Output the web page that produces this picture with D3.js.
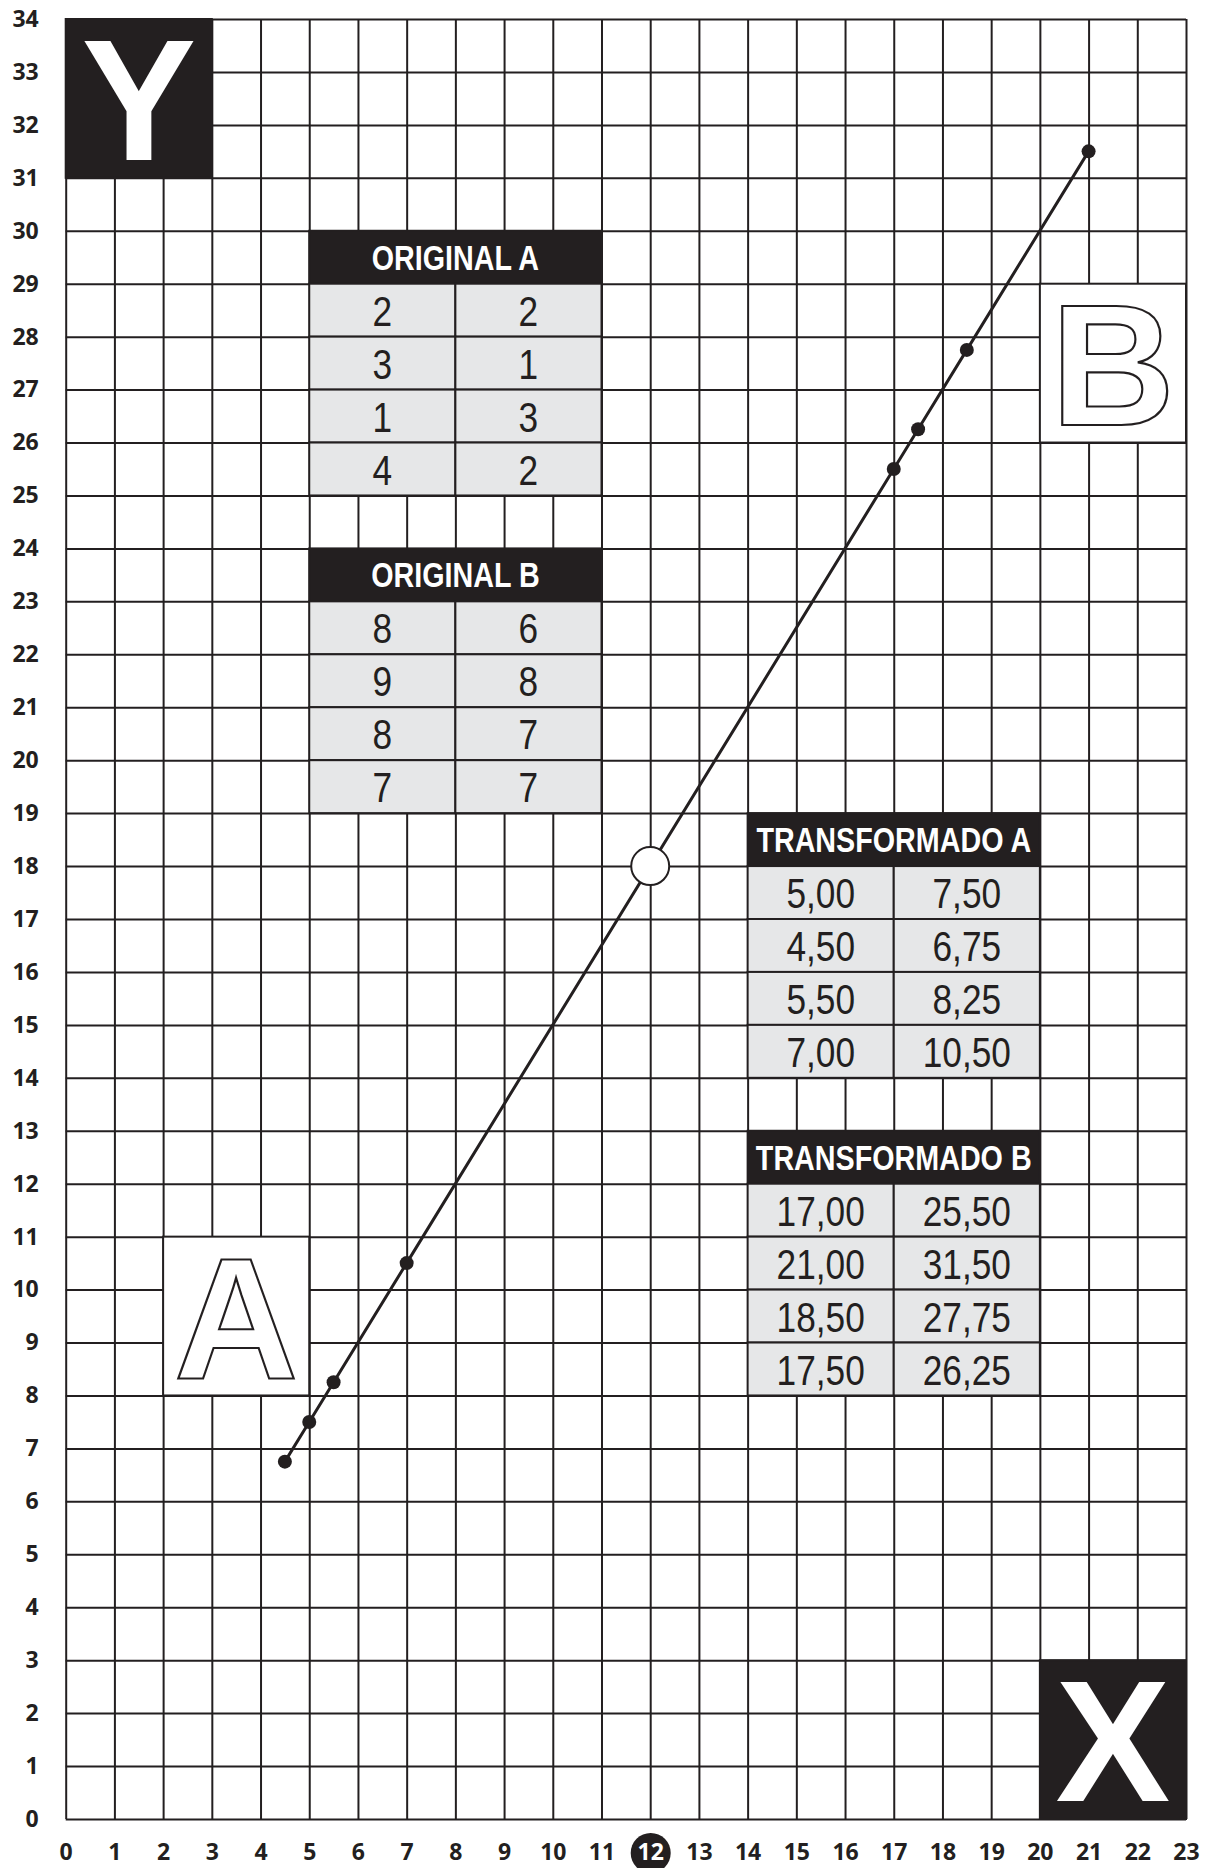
<!DOCTYPE html>
<html>
<head>
<meta charset="utf-8">
<script src="https://d3js.org/d3.v7.min.js"></script>
<style>
  body { margin: 0; background: #fff; }
  svg { display: block; }
</style>
</head>
<body>
<div id="chart"></div>
<script>
// tick labels
var xTicks = d3.range(0, 24);   // 0 .. 23
var yTicks = d3.range(0, 35);   // 0 .. 34
var highlightX = 12;

// table values (x, y pairs)
var originalA = [[2, 2], [3, 1], [1, 3], [4, 2]];
var originalB = [[8, 6], [9, 8], [8, 7], [7, 7]];
var transformadoA = [[5.00, 7.50], [4.50, 6.75], [5.50, 8.25], [7.00, 10.50]];
var transformadoB = [[17.00, 25.50], [21.00, 31.50], [18.50, 27.75], [17.50, 26.25]];

// the open point on the line
var centerPoint = [12, 18];

function init() {
    var w = 1205;
    var h = 1868;
    var ink = "#231f20";
    var cellFill = "#e6e7e8";
    var narrow = 0.82; // no condensed face installed, squeeze Liberation Sans instead

    var xScale = d3.scaleLinear().domain([0, 23]).range([65.7, 1186]);
    var yScale = d3.scaleLinear().domain([0, 34]).range([1819, 19]);

    var svg = d3.select("#chart").append("svg")
        .attr("width", w)
        .attr("height", h);

    // grid built from the axes themselves
    var xAxis = d3.axisBottom(xScale)
        .tickValues(xTicks)
        .tickSizeInner(-(yScale(0) - yScale(34)))
        .tickSizeOuter(0)
        .tickPadding(25)
        .tickFormat(d3.format("d"));

    var yAxis = d3.axisLeft(yScale)
        .tickValues(yTicks)
        .tickSizeInner(-(xScale(23) - xScale(0)))
        .tickSizeOuter(0)
        .tickPadding(27)
        .tickFormat(d3.format("d"));

    var gx = svg.append("g")
        .attr("transform", "translate(0," + yScale(0) + ")")
        .call(xAxis);
    var gy = svg.append("g")
        .attr("transform", "translate(" + xScale(0) + ",0)")
        .call(yAxis);

    [gx, gy].forEach(function(g) {
        g.select(".domain").remove();
        g.selectAll(".tick line")
            .attr("stroke", ink)
            .attr("stroke-width", 2);
        g.selectAll(".tick text")
            .attr("fill", ink)
            .style("font-family", "'Open Sans', 'DejaVu Sans', sans-serif")
            .style("font-weight", 700)
            .style("font-size", "23px");
    });

    // highlighted x tick (black disc behind the label)
    gx.selectAll(".tick")
        .filter(function(d) { return d === highlightX; })
        .each(function() {
            var t = d3.select(this);
            t.insert("circle", "text")
                .attr("cx", 0)
                .attr("cy", 34)
                .attr("r", 20)
                .attr("fill", ink);
            t.select("text").attr("fill", "#fff");
        });

    // letter boxes
    var letterBoxes = [
        { letter: "Y", x0: 0, x1: 3, y0: 31, y1: 34, dark: true },
        { letter: "X", x0: 20, x1: 23, y0: 0, y1: 3, dark: true },
        { letter: "A", x0: 2, x1: 5, y0: 8, y1: 11, dark: false },
        { letter: "B", x0: 20, x1: 23, y0: 26, y1: 29, dark: false }
    ];

    var boxes = svg.selectAll(".letterbox")
        .data(letterBoxes)
        .enter()
        .append("g")
        .attr("class", "letterbox");

    boxes.append("rect")
        .attr("x", function(d) { return xScale(d.x0); })
        .attr("y", function(d) { return yScale(d.y1); })
        .attr("width", function(d) { return xScale(d.x1) - xScale(d.x0); })
        .attr("height", function(d) { return yScale(d.y0) - yScale(d.y1); })
        .attr("fill", function(d) { return d.dark ? ink : "#fff"; })
        .attr("stroke", ink)
        .attr("stroke-width", 2);

    boxes.append("text")
        .attr("x", function(d) { return (xScale(d.x0) + xScale(d.x1)) / 2; })
        .attr("y", function(d) { return (yScale(d.y0) + yScale(d.y1)) / 2 + 61.5; })
        .attr("text-anchor", "middle")
        .style("font-family", "'Liberation Sans', Arial, sans-serif")
        .style("font-weight", 700)
        .style("font-size", "172px")
        .attr("fill", "#fff")
        .attr("stroke", function(d) { return d.dark ? "none" : ink; })
        .attr("stroke-width", 2.2)
        .text(function(d) { return d.letter; });

    // tables
    var fmt2 = d3.formatLocale({ decimal: ",", thousands: ".", grouping: [3], currency: ["", ""] }).format(".2f");
    var fmt0 = d3.format("d");

    var tables = [
        { title: "ORIGINAL A", rows: originalA, x0: 5, x1: 11, top: 30, f: fmt0 },
        { title: "ORIGINAL B", rows: originalB, x0: 5, x1: 11, top: 24, f: fmt0 },
        { title: "TRANSFORMADO A", rows: transformadoA, x0: 14, x1: 20, top: 19, f: fmt2 },
        { title: "TRANSFORMADO B", rows: transformadoB, x0: 14, x1: 20, top: 13, f: fmt2 }
    ];

    function squeezed(g, x, y) {
        return g.append("text")
            .attr("transform", "translate(" + x + "," + y + ") scale(" + narrow + ",1)")
            .attr("text-anchor", "middle")
            .style("font-family", "'Liberation Sans', Arial, sans-serif");
    }

    tables.forEach(function(t) {
        var g = svg.append("g").attr("class", "table");
        var xm = (t.x0 + t.x1) / 2;

        // header
        g.append("rect")
            .attr("x", xScale(t.x0))
            .attr("y", yScale(t.top))
            .attr("width", xScale(t.x1) - xScale(t.x0))
            .attr("height", yScale(t.top - 1) - yScale(t.top))
            .attr("fill", ink)
            .attr("stroke", ink)
            .attr("stroke-width", 2);

        squeezed(g, xScale(xm), (yScale(t.top) + yScale(t.top - 1)) / 2 + 12.5)
            .attr("fill", "#fff")
            .style("font-weight", 700)
            .style("font-size", "35px")
            .text(t.title);

        // body cells
        t.rows.forEach(function(r, i) {
            var yt = t.top - 1 - i;
            [[t.x0, xm], [xm, t.x1]].forEach(function(span, j) {
                g.append("rect")
                    .attr("x", xScale(span[0]))
                    .attr("y", yScale(yt))
                    .attr("width", xScale(span[1]) - xScale(span[0]))
                    .attr("height", yScale(yt - 1) - yScale(yt))
                    .attr("fill", cellFill)
                    .attr("stroke", ink)
                    .attr("stroke-width", 2);
                squeezed(g, (xScale(span[0]) + xScale(span[1])) / 2, (yScale(yt) + yScale(yt - 1)) / 2 + 15.5)
                    .attr("fill", ink)
                    .style("font-size", "43px")
                    .text(t.f(r[j]));
            });
        });
    });

    // the line through the transformed points
    var points = transformadoA.concat(transformadoB)
        .slice()
        .sort(function(a, b) { return a[0] - b[0]; });

    var line = d3.line()
        .x(function(d) { return xScale(d[0]); })
        .y(function(d) { return yScale(d[1]); });

    svg.append("path")
        .datum(points)
        .attr("d", line)
        .attr("fill", "none")
        .attr("stroke", ink)
        .attr("stroke-width", 3);

    svg.selectAll(".dot")
        .data(points)
        .enter()
        .append("circle")
        .attr("class", "dot")
        .attr("cx", function(d) { return xScale(d[0]); })
        .attr("cy", function(d) { return yScale(d[1]); })
        .attr("r", 7)
        .attr("fill", ink);

    svg.append("circle")
        .attr("cx", xScale(centerPoint[0]))
        .attr("cy", yScale(centerPoint[1]))
        .attr("r", 19)
        .attr("fill", "#fff")
        .attr("stroke", ink)
        .attr("stroke-width", 2);
}

window.onload = init;
</script>
</body>
</html>
